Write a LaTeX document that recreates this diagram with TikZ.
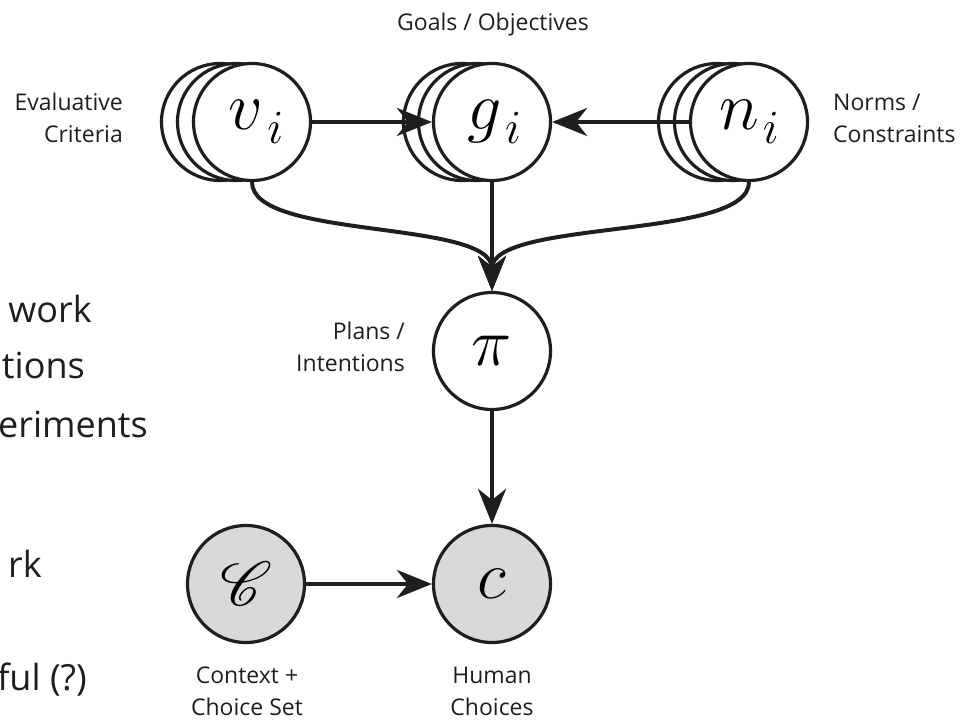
\documentclass[tikz,border=0pt]{standalone}
\usepackage{fix-cm}
\usepackage{fontspec}
\setmainfont{Open Sans}
\usepackage{mathrsfs}
\DeclareFontFamily{U}{rsfs}{\skewchar\font127 }
\DeclareFontShape{U}{rsfs}{m}{n}{<-6>rsfs5<6-8>rsfs7<8->rsfs10}{}
\usetikzlibrary{arrows.meta}
\definecolor{ink}{HTML}{1E1E1E}
\definecolor{obs}{HTML}{D9D9D9}
\newcommand{\subi}{\mkern1mu\lower14pt\hbox{$\scriptstyle i$}}
\begin{document}
\begin{tikzpicture}[x=1pt,y=-1pt,
  rv/.style={circle,draw=ink,line width=3.2pt,minimum size=117pt,inner sep=0pt,fill=white,
    font=\fontsize{68}{68}\selectfont},
  backrv/.style={rv},
  obsrv/.style={rv,fill=obs},
  arr/.style={draw=ink,line width=4pt,-{Stealth[length=35pt,width=28pt,inset=11pt]}},
  lbl/.style={font=\fontsize{23}{32}\selectfont,inner sep=0pt,text=ink},
  big/.style={font=\fontsize{36}{36}\selectfont,inner sep=0pt,text=ink,anchor=base east}]
\useasboundingbox (0,0) rectangle (965,722);
\begin{scope}
\clip (0,0) rectangle (965,722);
\node[big] (t1) at (92,322) {work};
\node[big] (t2) at (85,378) {tions};
\node[big] (t3) at (148,437) {eriments};
\node[big] (t4) at (42,577) {rk};
\node[big] (t5) at (87,690) {ful (?)};
\end{scope}
% stacked plates
\node[backrv] (v3) at (220,122) {};
\node[backrv] (v2) at (236,122) {};
\node[rv] (v) at (252,122) {\hspace{8pt}\raisebox{-4pt}{$v\subi$}};
\node[backrv] (g3) at (462,122) {};
\node[backrv] (g2) at (477,122) {};
\node[rv] (g) at (492,122) {\hspace{4pt}$g\subi$};
\node[backrv] (n3) at (717,122) {};
\node[backrv] (n2) at (733,122) {};
\node[rv] (n) at (749,122) {\raisebox{-4pt}{$n\subi$}};
\node[rv] (pi) at (492,351) {$\pi$};
\node[obsrv] (c) at (492,584) {$c$};
\node[obsrv] (C) at (246,584) {\fontsize{62}{62}\selectfont$\mathscr{C}$};
% connectors
\draw[arr] (v.east) -- (g.west);
\draw[arr] (n.west) -- (g.east);
\draw[arr] (v.south) .. controls +(0,58) and +(0,-72) .. (pi.north);
\draw[arr] (n.south) .. controls +(0,58) and +(0,-72) .. (pi.north);
\draw[arr] (g.south) -- (pi.north);
\draw[arr] (pi.south) -- (c.north);
\draw[arr] (C.east) -- (c.west);
% labels
\node[lbl,anchor=base] (lg) at (493,31) {Goals / Objectives};
\node[lbl,anchor=east,align=right] (lv) at (123,118) {Evaluative\\Criteria};
\node[lbl,anchor=west,align=left] (ln) at (833,118) {Norms /\\Constraints};
\node[lbl,anchor=east,align=right] (lpi) at (405,347) {Plans /\\Intentions};
\node[lbl,anchor=center,align=center] (lC) at (247,691) {Context +\\Choice Set};
\node[lbl,anchor=center,align=center] (lc) at (492,691) {Human\\Choices};
\end{tikzpicture}
\end{document}
